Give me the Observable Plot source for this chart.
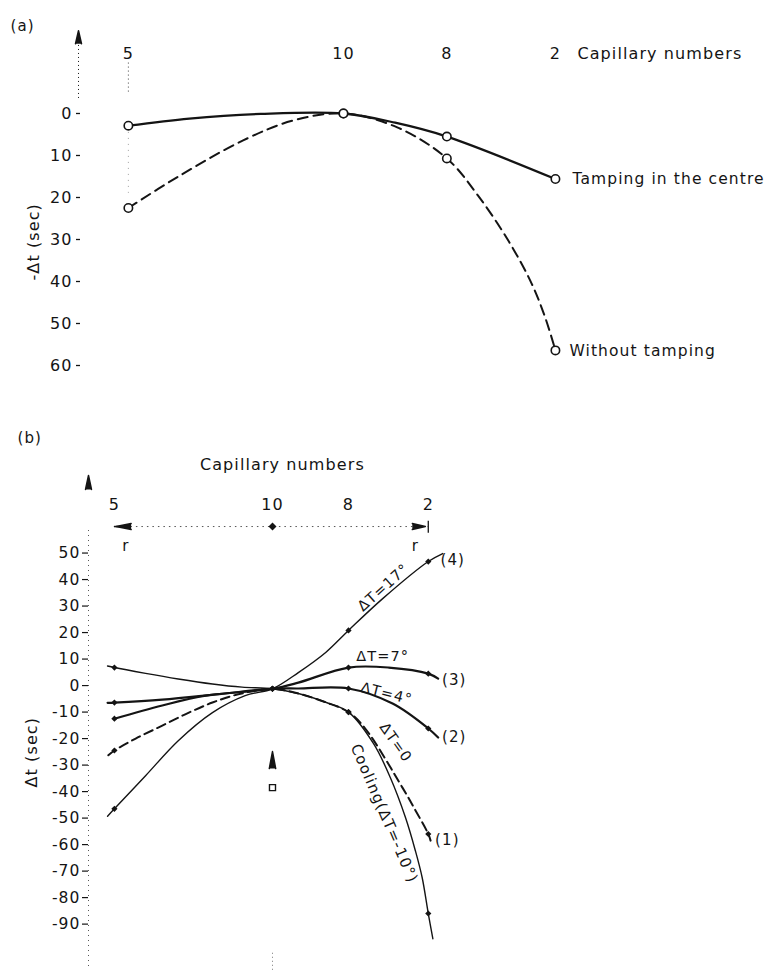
<!DOCTYPE html>
<html><head><meta charset="utf-8">
<script src="https://cdn.jsdelivr.net/npm/d3@7"></script>
<script src="https://cdn.jsdelivr.net/npm/@observablehq/plot@0.6"></script>
<style>
body{margin:0;background:#fff;}
svg{display:block;}
#chart text{letter-spacing:1.1px;}
</style></head><body><div id="chart"></div>
<script>
// ---- capillaries (10 = centre, relative radial position r) ----
const capillaryLabels = ["5", "10", "8", "2"];
const capillaryR = [-2.08, 0, 1, 2.05];

// ---- panel (a): -Δt (sec) ----
const yTicksA = [0, 10, 20, 30, 40, 50, 60];
const tampingCentre = [2.9, 0, 5.5, 15.6];
const withoutTamping = [22.5, 0, 10.7, 56.4];
// intermediate curve points [r, value]
const tampingCentreTrace = [[-1.49, 1.2], [-0.8, 0.1], [0.5, 2.2]];
const withoutTampingTrace = [[-1.61, 15.2], [-0.97, 6.4], [-0.49, 1.7], [0.52, 3.3], [1.3, 19.5], [1.6, 30.5], [1.82, 40.5], [1.95, 48.5]];

// ---- panel (b): Δt (sec) ----
const yTicksB = [50, 40, 30, 20, 10, 0, -10, -20, -30, -40, -50, -60, -70, -80, -90];
const coolingValues = [6.8, -1.2, -10, -86];
const dT0Values = [-24.5, -1.2, -10, -56];
const dT4Values = [-6.4, -1.2, -1.1, -16.2];
const dT7Values = [-12.5, -1.2, 6.8, 4.5];
const dT17Values = [-46.5, -1.2, 20.8, 46.8];
const coolingTrace = [[-2.17, 7.4], [-1.67, 4.6], [-1.24, 2.5], [-0.79, 0.6], [-0.4, -0.6], [0.34, -3], [0.7, -6.3], [1.33, -21.9], [1.55, -34.7], [1.75, -49.8], [1.88, -62.3], [1.97, -72.5], [2.11, -95.5]];
const dT0Trace = [[-2.16, -26.3], [-1.8, -20], [-1.45, -15.1], [-1.1, -10.2], [-0.79, -6.4], [-0.45, -3.3], [0.34, -3], [0.7, -6.3], [1.22, -16.2], [1.71, -38.5], [1.86, -46], [2.08, -58.5]];
const dT4Trace = [[-2.17, -6.5], [-1.45, -5.3], [-0.7, -3.2], [0.34, -1.1], [1.58, -6.8], [2.18, -19.6]];
const dT7Trace = [[-1.45, -7.5], [-0.88, -3.8], [0.34, 1.1], [1.53, 6.8], [2.18, 2.6]];
const dT17Trace = [[-2.17, -49.3], [-1.67, -34.0], [-1.24, -20.8], [-0.79, -10.2], [-0.36, -3.8], [0.34, 4.9], [0.7, 12.5], [1.45, 32.8], [2.24, 49.8]];

// ---- helpers ----
function measured(values) { return capillaryR.map((r, i) => ({r, v: values[i], label: capillaryLabels[i]})); }
function curve(values, trace) {
  return measured(values).concat(trace.map(([r, v]) => ({r, v}))).sort((a, b) => a.r - b.r);
}
const ink = "#141414";
const font = "'DejaVu Sans', sans-serif";
const caps = capillaryR.map((r, i) => ({r, label: capillaryLabels[i]}));
const smooth = "catmull-rom";

// ================= PANEL (a) =================
const plotA = Plot.plot({
  width: 776, height: 380,
  marginLeft: 80, marginRight: 0, marginTop: 0, marginBottom: 0,
  style: {fontFamily: font, fontSize: "15px", color: ink, background: "white", overflow: "visible"},
  x: {domain: [-2.543, 4.188], axis: null},
  y: {domain: [63.57, -26.9], label: null},
  marks: [
    Plot.axisY(yTicksA, {anchor: "left", tickSize: 4, tickPadding: 4, tickFormat: d => String(d), fontSize: 16, label: null, stroke: ink, strokeWidth: 1.3}),
    // dotted y-axis + arrow
    Plot.ruleX([0], {x: () => -2.543, y1: -16.2, y2: -3.1, dx: -2, stroke: ink, strokeDasharray: "1,3", strokeWidth: 1}),
    Plot.vector([0], {x: () => -2.543, y: -16.6, dx: -2, length: 13, rotate: 0, anchor: "start", shape: "spike", r: 3, fill: ink, stroke: ink}),
    // dotted guide at capillary 5
    Plot.ruleX([capillaryR[0]], {y1: -12, y2: -4.5, stroke: ink, strokeDasharray: "1,3", strokeWidth: 0.8}),
    Plot.ruleX([capillaryR[0]], {y1: 4.5, y2: 19, stroke: "#888", strokeDasharray: "1,5", strokeWidth: 0.8}),
    // capillary numbers
    Plot.text(caps, {x: "r", text: "label", frameAnchor: "top", dy: 47, fontSize: 16, fill: ink}),
    Plot.text(["Capillary numbers"], {x: () => capillaryR[3], frameAnchor: "top", dy: 47, dx: 22, textAnchor: "start", fontSize: 16, fill: ink}),
    // curves
    Plot.line(curve(withoutTamping, withoutTampingTrace), {x: "r", y: "v", curve: smooth, stroke: ink, strokeWidth: 2, strokeDasharray: "10,6"}),
    Plot.line(curve(tampingCentre, tampingCentreTrace), {x: "r", y: "v", curve: smooth, stroke: ink, strokeWidth: 2.3}),
    Plot.dot(measured(withoutTamping), {x: "r", y: "v", r: 4.2, fill: "white", stroke: ink, strokeWidth: 1.6}),
    Plot.dot(measured(tampingCentre), {x: "r", y: "v", r: 4.2, fill: "white", stroke: ink, strokeWidth: 1.6}),
    // series labels
    Plot.text(["Tamping in the centre"], {x: () => capillaryR[3], y: () => tampingCentre[3], dx: 17, textAnchor: "start", fontSize: 15.5, fill: ink}),
    Plot.text(["Without tamping"], {x: () => capillaryR[3], y: () => withoutTamping[3], dx: 14, dy: 1, textAnchor: "start", fontSize: 15.5, fill: ink}),
    // axis label + panel tag
    Plot.text(["-Δt (sec)"], {frameAnchor: "top-left", dx: -53, dy: 280, rotate: -90, fontSize: 16, fill: ink}),
    Plot.text(["(a)"], {frameAnchor: "top-left", dx: -70, dy: 20, textAnchor: "start", fontSize: 15, fill: ink})
  ]
});

// ================= PANEL (b) =================
const thin = 1.4, thick = 2.2;
const plotB = Plot.plot({
  width: 776, height: 590,
  marginLeft: 88, marginRight: 0, marginTop: 0, marginBottom: 0,
  style: {fontFamily: font, fontSize: "15px", color: ink, background: "white", overflow: "visible"},
  x: {domain: [-2.421, 6.632], axis: null},
  y: {domain: [-107.5, 115.1], label: null},
  marks: [
    Plot.axisY(yTicksB, {anchor: "left", tickSize: 6, tickPadding: 2, tickFormat: d => String(d), fontSize: 15.5, label: null, stroke: ink, strokeWidth: 1.2}),
    // dotted y-axis + arrow
    Plot.ruleX([0], {x: () => -2.421, y1: 58.5, y2: -107.5, stroke: "#555", strokeDasharray: "1,4", strokeWidth: 1}),
    Plot.vector([0], {x: () => -2.421, y: 74, length: 14, rotate: 0, anchor: "start", shape: "spike", r: 3, fill: ink, stroke: ink}),
    Plot.ruleX([0], {x: () => capillaryR[1], y1: -101, y2: -107.5, stroke: "#777", strokeDasharray: "1,3", strokeWidth: 1}),
    // "Capillary numbers" heading and capillary labels
    Plot.text(["Capillary numbers"], {x: () => 0.13, frameAnchor: "top", dy: 78, fontSize: 16, fill: ink}),
    Plot.text(caps, {x: "r", text: "label", frameAnchor: "top", dy: 118, fontSize: 16, fill: ink}),
    // radial r arrows
    Plot.ruleY([60], {x1: capillaryR[0], x2: capillaryR[3], stroke: "#555", strokeDasharray: "1.5,4", strokeWidth: 1}),
    Plot.vector([0], {x: () => -1.86, y: 60, length: 15, rotate: -90, anchor: "start", shape: "spike", r: 3, fill: ink, stroke: ink}),
    Plot.ruleY([60], {x1: capillaryR[0], x2: -1.95, stroke: ink, strokeWidth: 1.5}),
    Plot.vector([0], {x: () => 1.84, y: 60, length: 13, rotate: 90, anchor: "start", shape: "spike", r: 3, fill: ink, stroke: ink}),
    Plot.ruleX([capillaryR[3]], {y1: 57.5, y2: 62, stroke: ink, strokeWidth: 1.3}),
    Plot.dot([0], {x: () => capillaryR[1], y: 60, symbol: "diamond2", r: 3.6, fill: ink}),
    Plot.text(["r", "r"], {x: (d, i) => [-1.93, 1.88][i], frameAnchor: "top", dy: 160, fontSize: 15, fill: ink}),
    // curves
    Plot.line(curve(dT17Values, dT17Trace), {x: "r", y: "v", curve: smooth, stroke: ink, strokeWidth: thin}),
    Plot.line(curve(coolingValues, coolingTrace), {x: "r", y: "v", curve: smooth, stroke: ink, strokeWidth: thin}),
    Plot.line(curve(dT0Values, dT0Trace), {x: "r", y: "v", curve: smooth, stroke: ink, strokeWidth: 2, strokeDasharray: "9,5"}),
    Plot.line(curve(dT4Values, dT4Trace), {x: "r", y: "v", curve: smooth, stroke: ink, strokeWidth: thick}),
    Plot.line(curve(dT7Values, dT7Trace), {x: "r", y: "v", curve: smooth, stroke: ink, strokeWidth: thick}),
    Plot.dot([...measured(dT17Values), ...measured(coolingValues), ...measured(dT0Values), ...measured(dT4Values), ...measured(dT7Values)],
      {x: "r", y: "v", r: 2.8, symbol: "diamond2", fill: ink}),
    // tamping symbol at the centre capillary
    Plot.vector([0], {x: () => capillaryR[1], y: -31.3, length: 17, rotate: 0, anchor: "start", shape: "spike", r: 3.2, fill: ink, stroke: ink}),
    Plot.dot([0], {x: () => capillaryR[1], y: -38.5, symbol: "square", r: 3.4, fill: "white", stroke: ink, strokeWidth: 1.4}),
    // curve labels
    Plot.text(["ΔT=17°"], {x: () => 1.46, y: 37, rotate: -42, fontSize: 14.5, fill: ink}),
    Plot.text(["ΔT=7°"], {x: () => 1.45, y: 11, fontSize: 14.5, fill: ink}),
    Plot.text(["ΔT=4°"], {x: () => 1.5, y: -3, rotate: 14, fontSize: 14.5, fill: ink}),
    Plot.text(["ΔT=0"], {x: () => 1.62, y: -21.5, rotate: 55, fontSize: 14.5, fill: ink}),
    Plot.text(["Cooling(ΔT=-10°)"], {x: () => 1.47, y: -48.3, rotate: 67, fontSize: 15, fill: ink}),
    Plot.text(["(1)"], {x: () => 2.14, y: -58.5, textAnchor: "start", fontSize: 15, fill: ink}),
    Plot.text(["(2)"], {x: () => 2.23, y: -19.6, textAnchor: "start", fontSize: 15, fill: ink}),
    Plot.text(["(3)"], {x: () => 2.23, y: 1.9, textAnchor: "start", fontSize: 15, fill: ink}),
    Plot.text(["(4)"], {x: () => 2.21, y: 47.2, textAnchor: "start", fontSize: 15, fill: ink}),
    // axis label + panel tag
    Plot.text(["Δt (sec)"], {frameAnchor: "top-left", dx: -63, dy: 407, rotate: -90, fontSize: 16, fill: ink}),
    Plot.text(["(b)"], {frameAnchor: "top-left", dx: -71, dy: 52, textAnchor: "start", fontSize: 15, fill: ink})
  ]
});

const root = document.getElementById("chart");
root.appendChild(plotA);
root.appendChild(plotB);
</script>
</body></html>
